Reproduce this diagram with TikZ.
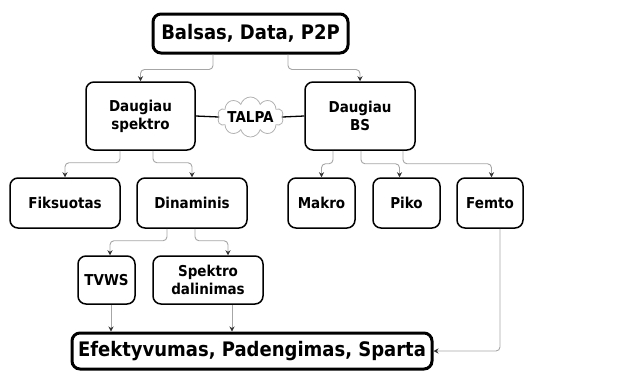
\documentclass[tikz,border=0pt]{standalone}
\usepackage{fontspec}
\setmainfont{DejaVu Sans Condensed}
\usetikzlibrary{arrows.meta,shapes.symbols}

\tikzset{
  box/.style={draw,rounded corners=8pt,line width=1.5pt,align=center,
    inner sep=0pt,font=\fontsize{15}{18}\selectfont\bfseries},
  mainbox/.style={box,line width=3pt,font=\fontsize{20}{24}\selectfont\bfseries},
  link/.style={-{Stealth[length=5pt,width=5pt,black!80]},gray!70,line width=0.9pt,
    rounded corners=4pt},
}

\begin{document}
\begin{tikzpicture}[x=1pt,y=-1pt]
  \useasboundingbox (0,0) rectangle (624,370);

  % top goal
  \node[mainbox,minimum width=195,minimum height=39] (top) at (250.5,33.5)
    {Balsas, Data, P2P};

  % two approaches and the link between them
  \node[box,minimum width=109,minimum height=68] (spek) at (140.5,116)
    {Daugiau\\spektro};
  \node[box,minimum width=110,minimum height=68] (bs) at (360,116)
    {Daugiau\\BS};
  \node[cloud,cloud puffs=10,aspect=1.6,draw=gray!60,line width=0.8pt,
    inner sep=0pt,minimum width=66,minimum height=40,
    label={[font=\fontsize{15}{18}\selectfont\bfseries]center:TALPA}] (talpa)
    at (250.5,117) {};
  \draw[line width=1.3pt] (spek.east) -- (talpa.west);
  \draw[line width=1.3pt] (talpa.east) -- (bs.east -| bs.west);

  % second row
  \node[box,minimum width=110,minimum height=50] (fiks) at (65,203) {Fiksuotas};
  \node[box,minimum width=110,minimum height=50] (dina) at (192,203) {Dinaminis};
  \node[box,minimum width=67,minimum height=50] (makro) at (321.5,203) {Makro};
  \node[box,minimum width=67,minimum height=50] (piko) at (406.5,203) {Piko};
  \node[box,minimum width=66,minimum height=50] (femto) at (490,203) {Femto};

  % third row
  \node[box,minimum width=57,minimum height=48] (tvws) at (106.5,280) {TVWS};
  \node[box,minimum width=110,minimum height=48] (spdal) at (208,280)
    {Spektro\\dalinimas};

  % result
  \node[mainbox,minimum width=360,minimum height=36] (bottom) at (252,351)
    {Efektyvumas, Padengimas, Sparta};

  % connectors
  \draw[link] ([xshift=-37.5]top.south) -- ++(0,15) -| (spek.north);
  \draw[link] ([xshift=37.5]top.south) -- ++(0,15) -| (bs.north);
  \draw[link] ([xshift=-20.5]spek.south) -- ++(0,12) -| (fiks.north);
  \draw[link] ([xshift=12.5]spek.south) -- ++(0,12) -| (dina.north);
  \draw[link] ([xshift=-27]bs.south) -- ++(0,13) -| (makro.north);
  \draw[link] ([xshift=1]bs.south) -- ++(0,13) -| ([xshift=-7]piko.north);
  \draw[link] ([xshift=43]bs.south) -- ++(0,13) -| ([xshift=1.5]femto.north);
  \draw[link] ([xshift=-25]dina.south) -- ++(0,12) -| ([xshift=3.5]tvws.north);
  \draw[link] ([xshift=3]dina.south) -- ++(0,12) -| ([xshift=20]spdal.north);
  \draw[link] ([xshift=4.5]tvws.south) -- ([xshift=4.5]tvws.south |- bottom.north);
  \draw[link] ([xshift=24]spdal.south) -- ([xshift=24]spdal.south |- bottom.north);
  \draw[link] ([xshift=10]femto.south) |- (bottom.east);
\end{tikzpicture}
\end{document}
